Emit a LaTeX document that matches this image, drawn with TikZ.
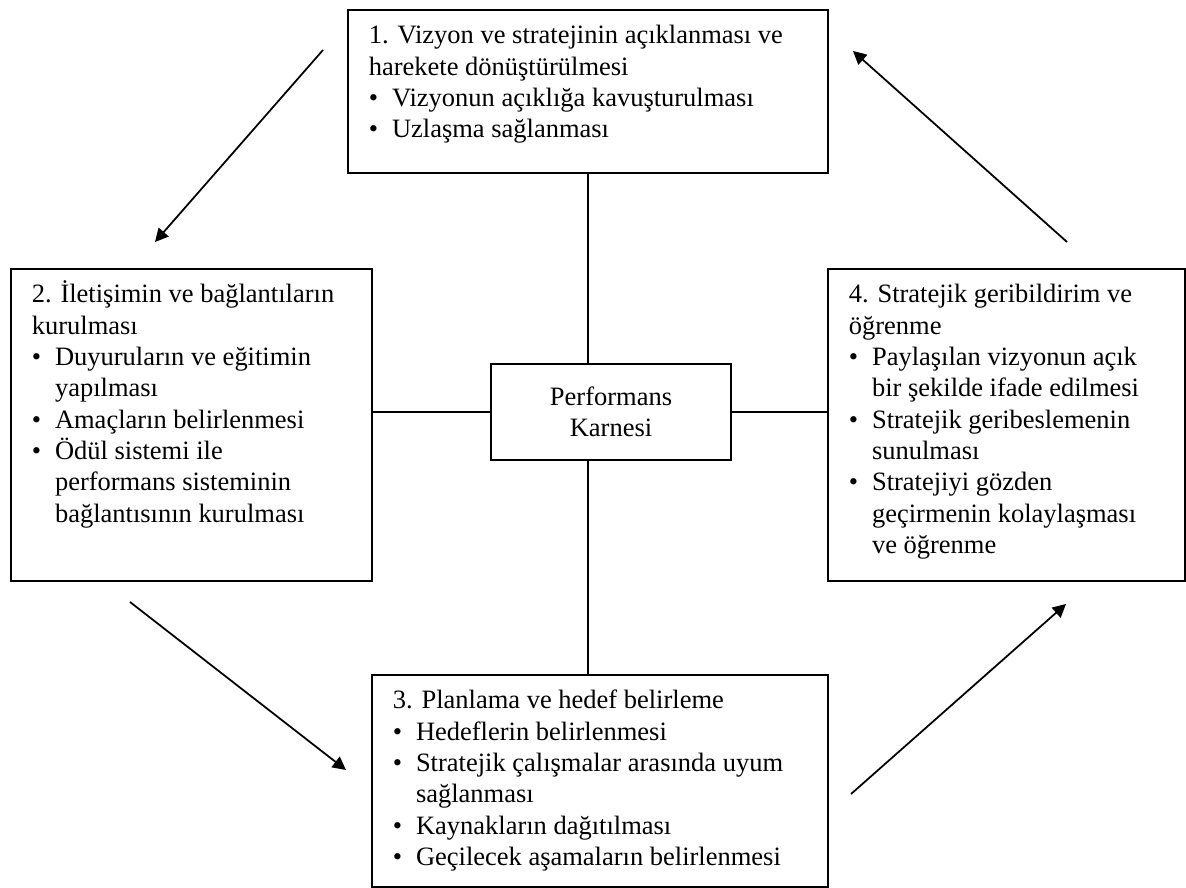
\documentclass[tikz,border=0pt]{standalone}
\usepackage{fontspec}
\setmainfont{Liberation Serif}
\usetikzlibrary{arrows.meta}
\newlength{\px}\setlength{\px}{0.453pt}
\newcommand{\madde}{\makebox[10.5pt][l]{\textbullet}}
\newcommand{\girinti}{\hspace*{10.5pt}}
% Kutu: Name, x, y, Breite, Hoehe, Text
\newcommand{\kutu}[6]{\node[kutu] (#1) at (#2,#3)
  {\parbox[t][\dimexpr#5\px-10.8pt\relax][t]{\dimexpr#4\px-19pt\relax}{\raggedright\strut #6}};}
\begin{document}
\begin{tikzpicture}[x=0.453pt, y=-0.453pt,
        kutu/.style={draw, line width=0.8pt, anchor=north west, inner xsep=9.5pt, inner ysep=5.4pt,
          font=\fontsize{12}{14.2}\selectfont},
        merkezkutu/.style={draw, line width=0.8pt, align=center, minimum width=108.7pt, minimum height=43.5pt,
          font=\fontsize{12}{14.2}\selectfont},
        cizgi/.style={line width=0.8pt},
        ok/.style={-{Triangle[length=6pt,width=6pt]}, line width=0.8pt}]
    \useasboundingbox (0,0) rectangle (1186,888);
    % Kutular
    \kutu{k1}{347}{9}{480}{163}{1. Vizyon ve stratejinin açıklanması ve\\
      harekete dönüştürülmesi\\
      \madde Vizyonun açıklığa kavuşturulması\\
      \madde Uzlaşma sağlanması}
    \kutu{k2}{10}{268}{361}{312}{2. İletişimin ve bağlantıların\\
      kurulması\\
      \madde Duyuruların ve eğitimin\\
      \girinti yapılması\\
      \madde Amaçların belirlenmesi\\
      \madde Ödül sistemi ile\\
      \girinti performans sisteminin\\
      \girinti bağlantısının kurulması}
    \kutu{k3}{371}{674}{456}{212}{3. Planlama ve hedef belirleme\\
      \madde Hedeflerin belirlenmesi\\
      \madde Stratejik çalışmalar arasında uyum\\
      \girinti sağlanması\\
      \madde Kaynakların dağıtılması\\
      \madde Geçilecek aşamaların belirlenmesi}
    \kutu{k4}{827}{268}{357}{312}{4. Stratejik geribildirim ve\\
      öğrenme\\
      \madde Paylaşılan vizyonun açık\\
      \girinti bir şekilde ifade edilmesi\\
      \madde Stratejik geribeslemenin\\
      \girinti sunulması\\
      \madde Stratejiyi gözden\\
      \girinti geçirmenin kolaylaşması\\
      \girinti ve öğrenme}
    \node[merkezkutu] (m) at (611,412) {Performans\\Karnesi};
    % Verbindungslinien
    \draw[cizgi] (k1.south) -- (k1.south |- m.north);
    \draw[cizgi] (k1.south |- m.south) -- (k1.south |- k3.north);
    \draw[cizgi] (m.west -| k2.east) -- (m.west);
    \draw[cizgi] (m.east) -- (m.east -| k4.west);
    % Pfeile
    \coordinate (bas1) at (323,50);   \coordinate (son1) at (155,242);
    \coordinate (bas2) at (1067,242); \coordinate (son2) at (853,51);
    \coordinate (bas3) at (130,602);  \coordinate (son3) at (346,770);
    \coordinate (bas4) at (851,794);  \coordinate (son4) at (1066,604);
    \foreach \i in {1,...,4} \draw[ok] (bas\i) -- (son\i);
\end{tikzpicture}
\end{document}
